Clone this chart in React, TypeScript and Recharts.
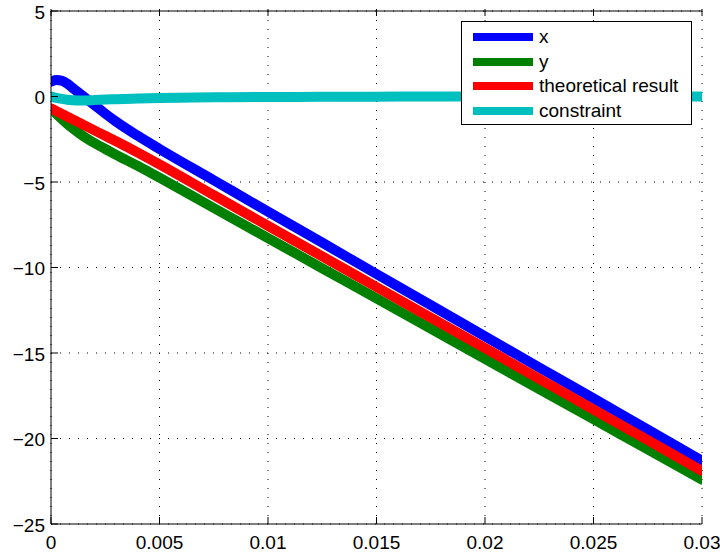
import { CartesianGrid, Line, LineChart, XAxis, YAxis } from "recharts";

const T = [
  0, 0.00025, 0.0005, 0.00075, 0.001, 0.00125, 0.0015, 0.002, 0.0025, 0.003, 0.004,
  0.005, 0.0075, 0.01, 0.0125, 0.015, 0.0175, 0.02, 0.0225, 0.025, 0.0275, 0.03,
];
const X_VALUES = [
  0.87, 0.97, 0.92, 0.75, 0.5, 0.25, 0.0, -0.5, -1.0, -1.47, -2.3,
  -3.07, -4.9, -6.73, -8.55, -10.38, -12.2, -14.03, -15.85, -17.65, -19.48, -21.3,
];
const Y_VALUES = [
  -0.7, -1.02, -1.32, -1.6, -1.86, -2.1, -2.33, -2.72, -3.07, -3.41, -4.06,
  -4.75, -6.52, -8.28, -10.05, -11.81, -13.58, -15.34, -17.11, -18.87, -20.64, -22.4,
];
const THEORY = [
  -0.7, -0.86, -1.02, -1.18, -1.34, -1.5, -1.66, -1.98, -2.3, -2.62, -3.28,
  -3.97, -5.77, -7.56, -9.35, -11.14, -12.93, -14.72, -16.51, -18.31, -20.1, -21.9,
];
const CONSTRAINT = [
  0, -0.08, -0.14, -0.19, -0.22, -0.23, -0.23, -0.21, -0.18, -0.16, -0.12,
  -0.09, -0.05, -0.03, -0.02, -0.01, 0, 0, 0, 0, 0, 0,
];

const X_TICKS = [0, 0.005, 0.01, 0.015, 0.02, 0.025, 0.03];
const Y_TICKS = [5, 0, -5, -10, -15, -20, -25];

const SERIES = [
  { key: "x", label: "x", color: "#0000ff" },
  { key: "y", label: "y", color: "#008000" },
  { key: "theory", label: "theoretical result", color: "#ff0000" },
  { key: "constraint", label: "constraint", color: "#00bfbf" },
];

const data = T.map((t, i) => ({
  t,
  x: X_VALUES[i],
  y: Y_VALUES[i],
  theory: THEORY[i],
  constraint: CONSTRAINT[i],
}));

const FONT = "'Liberation Sans', Arial, Helvetica, sans-serif";
const TICK_LEN = 7;

const fmtY = (v: number) => (v < 0 ? `\u2212${Math.abs(v)}` : `${v}`);

function BottomTick({ x, y, payload }: any) {
  return (
    <g>
      <line x1={x} x2={x} y1={y} y2={y - TICK_LEN} stroke="#000" />
      <text x={x} y={y + 18} textAnchor="middle" dominantBaseline="central" fontSize={19} fontFamily={FONT} fill="#000">
        {String(payload.value)}
      </text>
    </g>
  );
}

function LeftTick({ x, y, payload }: any) {
  return (
    <g>
      <line x1={x} x2={x + TICK_LEN} y1={y} y2={y} stroke="#000" />
      <text x={x - 6} y={y + 1} textAnchor="end" dominantBaseline="central" fontSize={19} fontFamily={FONT} fill="#000">
        {fmtY(payload.value)}
      </text>
    </g>
  );
}

function TopTick({ x, y }: any) {
  return <line x1={x} x2={x} y1={y} y2={y + TICK_LEN} stroke="#000" />;
}

function RightTick({ x, y }: any) {
  return <line x1={x} x2={x - TICK_LEN} y1={y} y2={y} stroke="#000" />;
}

function LegendBox() {
  return (
    <div
      style={{
        position: "absolute",
        left: 461,
        top: 21,
        width: 229,
        height: 102,
        background: "#fff",
        border: "1px solid #000",
        fontFamily: FONT,
        fontSize: 19,
      }}
    >
      {SERIES.map((s, i) => (
        <div key={s.key} style={{ position: "absolute", left: 11, top: 4 + i * 24.5, height: 22, display: "flex", alignItems: "center" }}>
          <div style={{ width: 60, height: 8, background: s.color }} />
          <span style={{ marginLeft: 6, lineHeight: "22px", whiteSpace: "nowrap" }}>{s.label}</span>
        </div>
      ))}
    </div>
  );
}

export default function App() {
  return (
    <div style={{ position: "absolute", left: 0, top: 0, width: 720, height: 555, background: "#fff" }}>
      <LineChart width={720} height={555} data={data} margin={{ top: 10, right: 18, bottom: 0, left: 0 }}>
        <CartesianGrid stroke="#000" strokeDasharray="1 8" />
        <XAxis
          dataKey="t"
          type="number"
          domain={[0, 0.03]}
          ticks={X_TICKS}
          height={31}
          tickSize={0}
          tickMargin={0}
          tickLine={false}
          axisLine={{ stroke: "#000" }}
          tick={<BottomTick />}
          allowDataOverflow
        />
        <XAxis
          xAxisId="top"
          orientation="top"
          dataKey="t"
          type="number"
          domain={[0, 0.03]}
          ticks={X_TICKS}
          height={1}
          tickSize={0}
          tickLine={false}
          axisLine={{ stroke: "#000" }}
          tick={<TopTick />}
        />
        <YAxis
          type="number"
          domain={[-25, 5]}
          ticks={Y_TICKS}
          width={51}
          tickSize={0}
          tickMargin={0}
          tickLine={false}
          axisLine={{ stroke: "#000" }}
          tick={<LeftTick />}
          allowDataOverflow
        />
        <YAxis
          yAxisId="right"
          orientation="right"
          type="number"
          domain={[-25, 5]}
          ticks={Y_TICKS}
          width={0}
          tickSize={0}
          tickLine={false}
          axisLine={{ stroke: "#000" }}
          tick={<RightTick />}
        />
        {SERIES.map((s) => (
          <Line
            key={s.key}
            type="monotone"
            dataKey={s.key}
            stroke={s.color}
            strokeWidth={10}
            strokeLinecap="round"
            dot={false}
            activeDot={false}
            isAnimationActive={false}
          />
        ))}
      </LineChart>
      <LegendBox />
    </div>
  );
}
